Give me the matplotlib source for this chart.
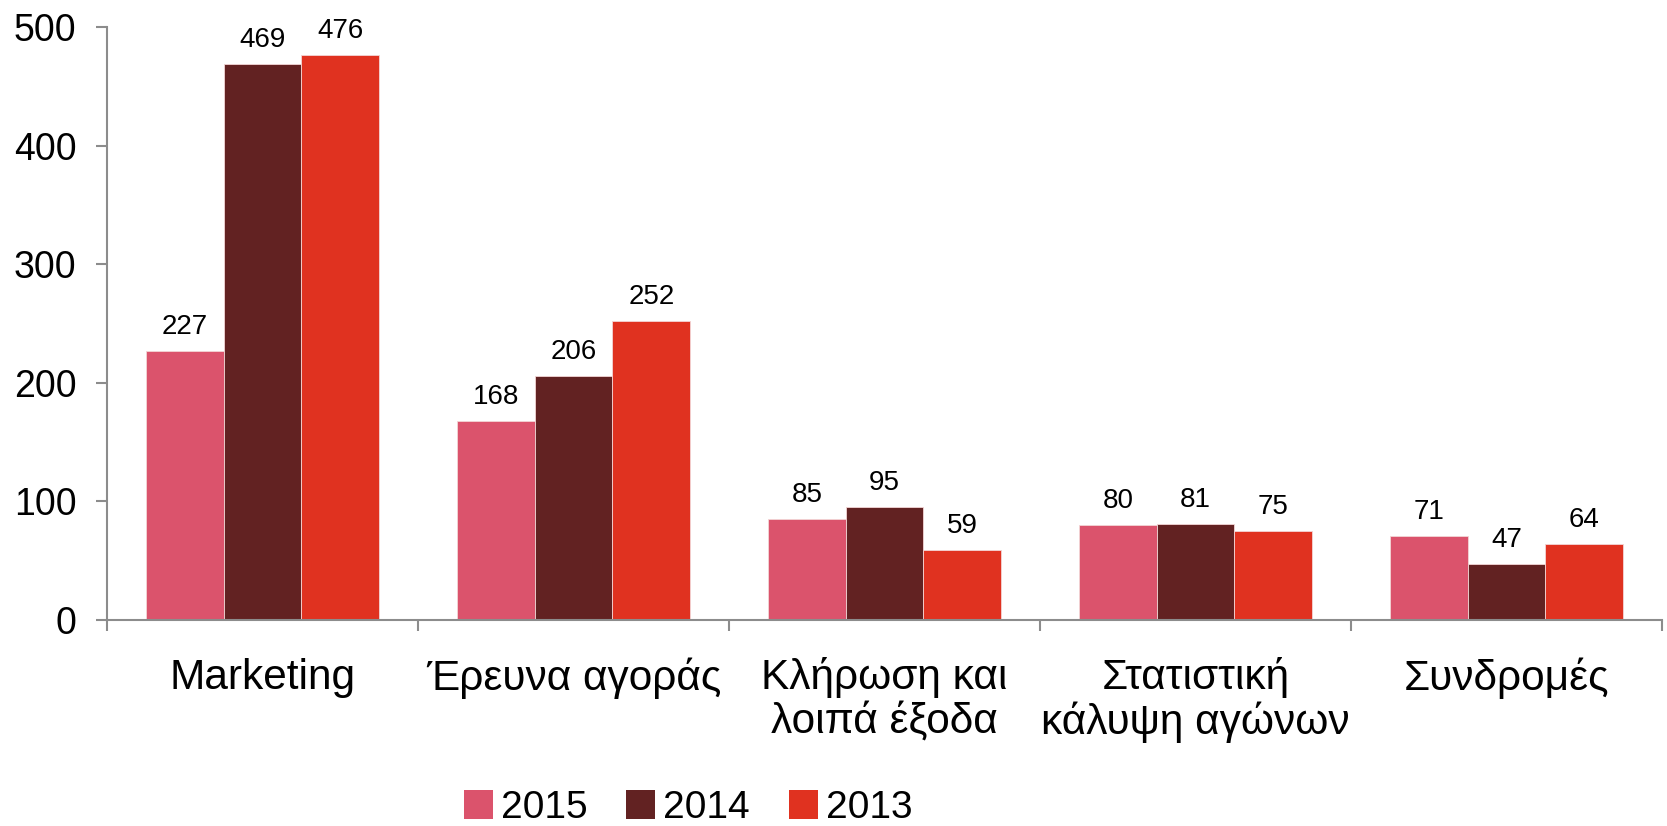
import matplotlib
matplotlib.use("Agg")
import matplotlib.pyplot as plt
import numpy as np
from matplotlib.patches import Patch

plt.rcParams['font.family'] = ['Liberation Sans', 'DejaVu Sans']

categories = ["Marketing", "Έρευνα αγοράς", "Κλήρωση και\nλοιπά έξοδα",
              "Στατιστική\nκάλυψη αγώνων", "Συνδρομές"]
years = ["2015", "2014", "2013"]
v2015 = [227, 168, 85, 80, 71]
v2014 = [469, 206, 95, 81, 47]
v2013 = [476, 252, 59, 75, 64]
series = [v2015, v2014, v2013]
colors = ["#DB536C", "#622222", "#E03220"]
yticks = [0, 100, 200, 300, 400, 500]

fig = plt.figure(figsize=(16.67, 8.26), dpi=100)
ax = fig.add_axes([107/1667, 1-620/826, (1662-107)/1667, (620-27)/826])

x = np.arange(len(categories))
w = 0.25
for i, (vals, c) in enumerate(zip(series, colors)):
    pos = x + (i - 1) * w
    ax.bar(pos, vals, width=w, color=c, edgecolor="#f3d6d6", linewidth=0.6)
    for xp, v in zip(pos, vals):
        ax.annotate(str(v), (xp, v), xytext=(0, 8), textcoords="offset points",
                    ha="center", va="bottom", fontsize=20)

ax.set_xlim(-0.5, len(categories) - 0.5)
ax.set_ylim(0, 500)
ax.set_yticks(yticks)
ax.set_yticklabels([str(t) for t in yticks], fontsize=27)
ax.set_xticks(np.arange(len(categories) + 1) - 0.5)
ax.set_xticklabels([])
ax.set_xticks(x, minor=True)
ax.set_xticklabels(categories, minor=True, fontsize=30.5, linespacing=1.1)
ax.tick_params(axis="x", which="minor", length=0, pad=27)
ax.tick_params(axis="x", which="major", length=8, color="#8c8c8c", width=1.5)
ax.tick_params(axis="y", length=8, color="#8c8c8c", width=1.5, pad=14)

for s in ["top", "right"]:
    ax.spines[s].set_visible(False)
for s in ["left", "bottom"]:
    ax.spines[s].set_color("#8c8c8c")
    ax.spines[s].set_linewidth(1.5)

handles = [Patch(facecolor=c, label=y) for c, y in zip(colors, years)]
fig.legend(handles=handles, loc="center", bbox_to_anchor=(688/1667, 1-808/826),
           ncol=3, frameon=False, fontsize=28, handlelength=0.75, handleheight=0.75,
           handletextpad=0.2, columnspacing=1.0)

fig.savefig("out.png", dpi=100)
